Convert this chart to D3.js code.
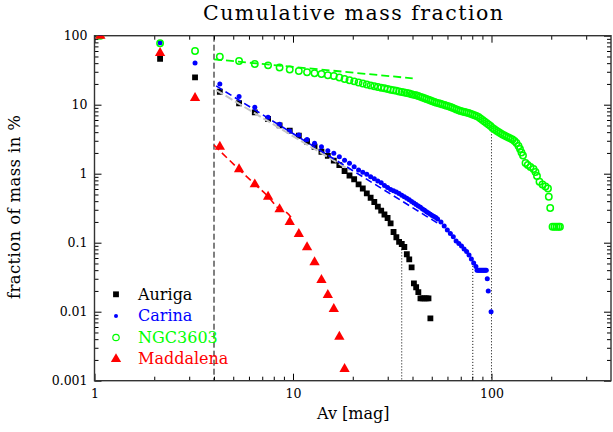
<!DOCTYPE html>
<html>
<head>
<meta charset="utf-8">
<script src="https://cdn.jsdelivr.net/npm/d3@7"></script>
<style>
  body { margin: 0; background: #fff; }
  svg { display: block; }
</style>
</head>
<body>
<svg id="chart" width="613" height="432"></svg>
<script>
// ---- data: cumulative mass fraction (%) above a given extinction Av [mag] ----
const aurigaAv = [1.07,2.14,3.21,4.28,5.35,6.42,7.49,8.56,9.63,10.7,11.77,12.84,13.91,14.98,16.05,17.12,18.19,19.26,20.33,21.4,22.47,23.54,24.61,25.68,26.75,27.82,28.89,29.96,31.03,32.1,33.17,34.24,35.31,36.38,37.45,38.52,39.59,40.66,41.73,42.8,43.87,44.94,46.01,47.08,48.15,49.22];
const aurigaPct = [100,46.4,24.9,15.4,10.5,7.76,6.2,5.03,4.2,3.55,2.93,2.46,2.08,1.81,1.55,1.33,1.094,0.942,0.83,0.702,0.611,0.52,0.448,0.389,0.333,0.291,0.256,0.228,0.191,0.143,0.12,0.103,0.0957,0.0867,0.068,0.0574,0.044,0.0258,0.0226,0.0192,0.0156,0.0156,0.0156,0.0156,0.0156,0.008];

const carinaAv = [1.07,2.14,3.21,4.28,5.35,6.42,7.49,8.56,9.63,10.7,11.77,12.84,13.91,14.98,16.05,17.12,18.19,19.26,20.33,21.4,22.47,23.54,24.61,25.68,26.75,27.82,28.89,29.96,31.03,32.1,33.17,34.24,35.31,36.38,37.45,38.52,39.59,40.66,41.73,42.8,43.87,44.94,46.01,47.08,48.15,49.22,50.29,51.36,52.43,53.5,
  55.64,57.78,59.92,62.06,64.2,66.34,68.48,70.62,72.76,74.9,77.04,79.18,81.32,83.46,
  84.53,85.6,86.67,87.74,88.81,89.88,90.95,92.02,93.09,94.16,95.23,96.3,99.51];
const carinaPct = [100,79.2,40.2,19.95,13.1,9.17,6.57,5.2,4.16,3.64,3.13,2.76,2.46,2.15,1.98,1.76,1.56,1.415,1.26,1.13,1.047,0.98,0.905,0.847,0.784,0.741,0.675,0.631,0.59,0.567,0.543,0.516,0.486,0.464,0.44,0.42,0.395,0.376,0.358,0.34,0.326,0.308,0.295,0.281,0.269,0.258,0.248,0.24,0.232,0.22,
  0.1995,0.1746,0.1528,0.1359,0.1222,0.1059,0.0973,0.0896,0.081,0.0745,0.0664,0.0581,0.0508,0.0452,
  0.04,0.04,0.04,0.04,0.04,0.04,0.04,0.04,0.04,0.04,0.03,0.02,0.01];

const ngcAv = [1.07,2.14,3.21,4.28,5.35,6.42,7.49,8.56,9.63,10.7,11.77,12.84,13.91,14.98,16.05,17.12,18.19,19.26,20.33,21.4,22.47,23.54,24.61,25.68,26.75,27.82,28.89,29.96,31.03,32.1,33.17,34.24,35.31,36.38,37.45,38.52,39.59,40.66,41.73,42.8,
  43.9,44.9,46.0,47.0,48.2,49.3,50.4,51.6,52.8,54.1,55.4,56.6,58.0,59.3,60.7,62.2,63.6,65.1,66.6,68.2,69.8,71.4,73.1,74.8,76.6,78.4,80.2,82.1,84.0,86.0,88.0,90.1,92.2,94.4,96.6,98.9,101.2,103.5,106.0,108.5,111.0,113.6,116.3,119.0,121.8,124.6,127.6,130.6,133.6,136.8,139.2,141.6,144.1,148.4,152.3,157.2,162.8,166.6,169.5,174.5,180.7,187.1,192.6,194.4,197.6,203.0,207.7,212.6,217.5,221.3];
const ngcPct = [100,77.6,60.0,49.6,43.0,38.9,37.2,34.6,32.4,30.8,29.5,28.5,27.9,26.7,26.1,24.8,23.6,22.6,21.8,21.0,20.3,19.6,19.05,18.5,18.07,17.64,17.3,16.9,16.5,16.2,15.9,15.5,15.3,15.0,14.8,14.5,14.2,13.9,13.7,13.4,
  13.0,12.7,12.4,12.1,11.8,11.5,11.2,10.95,10.7,10.5,10.3,10.1,9.9,9.68,9.48,9.26,9.02,8.78,8.55,8.32,8.13,7.96,7.83,7.70,7.58,7.41,7.21,7.02,6.86,6.63,6.31,6.00,5.71,5.43,5.16,4.91,4.59,4.40,4.20,4.02,3.85,3.70,3.58,3.46,3.35,3.24,3.13,2.98,2.79,2.52,2.28,2.03,1.84,1.43,1.34,1.25,1.17,1.06,0.927,0.766,0.697,0.652,0.611,0.464,0.318,0.1706,0.1706,0.1706,0.1706,0.1706];

const maddAv = [1.07,2.14,3.21,4.28,5.35,6.42,7.49,8.56,9.63,10.7,11.77,12.84,13.91,14.98,16.05,17.12,18.19];
const maddPct = [100,56,12.5,2.46,1.16,0.70,0.464,0.305,0.1995,0.1337,0.0858,0.052,0.0288,0.01746,0.01094,0.00434,0.00148];

// power-law fits
const fitAurigaAv = [4.1, 19.3];
const fitAurigaPct = [16.3, 1.13];
const fitCarinaAv = [4.1, 55];
const fitCarinaPct = [18.7, 0.183];
const fitNgcAv = [4.0, 40.1];
const fitNgcPct = [45.5, 24.1];
const fitMaddAv = [4.0, 5.3, 6.4, 7.5, 8.55, 9.3, 9.95];
const fitMaddPct = [2.6, 1.18, 0.71, 0.465, 0.305, 0.272, 0.22];

// threshold Av=4 and the maximum-extinction markers
const thresholdAv = 4;
const refAv = [35.3, 80.5, 100];
const refTop = [0.08, 0.051, 4.55];

// axes
const xMajor = [1, 10, 100];
const xTickLabels = ["1", "10", "100"];
const yMajor = [0.001, 0.01, 0.1, 1, 10, 100];
const yTickLabels = ["0.001", "0.01", "0.1", "1", "10", "100"];

const seriesNames = ["Auriga", "Carina", "NGC3603", "Maddalena"];
const seriesColors = ["#000000", "#0000ff", "#00ff00", "#ff0000"];

// ---- layout ----
const svg = d3.select("#chart");
const plotL = 94.5, plotR = 611, plotT = 35.7, plotB = 380.7;
const x = d3.scaleLog().domain([1, 400]).range([plotL, plotR]);
const y = d3.scaleLog().domain([0.001, 100]).range([plotB, plotT]);
const serif = "'DejaVu Serif', serif";

const zip = (a, b) => a.map((v, i) => [v, b[i]]);

// minor/major tick positions for log axes
const xTicks = [];
[1, 10, 100].forEach(d => { for (let m = 1; m <= 9; m++) { const v = m * d; if (v < 400) xTicks.push(v); } });
const yTicks = [];
[0.001, 0.01, 0.1, 1, 10].forEach(d => { for (let m = 1; m <= 9; m++) yTicks.push(+(m * d).toPrecision(3)); });
yTicks.push(100);
const isMajor = d => Math.abs(Math.log10(d) - Math.round(Math.log10(d))) < 1e-6;

function finishAxis(g, attr, sign) {
  g.select(".domain").remove();
  g.selectAll(".tick line").attr(attr, d => sign * (isMajor(d) ? 7 : 4)).attr("stroke", "#000");
  g.selectAll(".tick text").attr("font-family", serif).attr("font-size", 12.5).attr("fill", "#000");
}

svg.append("g").attr("transform", `translate(0,${plotB})`)
  .call(d3.axisBottom(x).tickValues(xTicks).tickSizeInner(-7).tickSizeOuter(0).tickPadding(8.6)
    .tickFormat(d => { const i = xMajor.indexOf(d); return i >= 0 ? xTickLabels[i] : ""; }))
  .call(g => finishAxis(g, "y2", -1));
svg.append("g").attr("transform", `translate(0,${plotT})`)
  .call(d3.axisTop(x).tickValues(xTicks).tickSizeInner(-7).tickSizeOuter(0).tickFormat(""))
  .call(g => finishAxis(g, "y2", 1));
svg.append("g").attr("transform", `translate(${plotL},0)`)
  .call(d3.axisLeft(y).tickValues(yTicks).tickSizeInner(-7).tickSizeOuter(0).tickPadding(7)
    .tickFormat(d => { const i = yMajor.findIndex(v => Math.abs(v - d) < 1e-9); return i >= 0 ? yTickLabels[i] : ""; }))
  .call(g => finishAxis(g, "x2", 1));
svg.append("g").attr("transform", `translate(${plotR},0)`)
  .call(d3.axisRight(y).tickValues(yTicks).tickSizeInner(-7).tickSizeOuter(0).tickFormat(""))
  .call(g => finishAxis(g, "x2", -1));

// frame
svg.append("rect").attr("x", plotL).attr("y", plotT)
  .attr("width", plotR - plotL).attr("height", plotB - plotT)
  .attr("fill", "none").attr("stroke", "#333").attr("stroke-width", 1.4);

// clip for plotted marks
svg.append("clipPath").attr("id", "plotclip").append("rect")
  .attr("x", plotL).attr("y", plotT).attr("width", plotR - plotL).attr("height", plotB - plotT);
const plot = svg.append("g").attr("clip-path", "url(#plotclip)");

// threshold and reference lines
plot.append("line")
  .attr("x1", x(thresholdAv)).attr("x2", x(thresholdAv))
  .attr("y1", y(100)).attr("y2", y(0.001))
  .attr("stroke", "#000").attr("stroke-width", 1).attr("stroke-dasharray", "6,3");
plot.selectAll(".ref").data(zip(refAv, refTop)).join("line")
  .attr("x1", d => x(d[0])).attr("x2", d => x(d[0]))
  .attr("y1", d => y(d[1])).attr("y2", y(0.001))
  .attr("stroke", "#000").attr("stroke-width", 1).attr("stroke-dasharray", "1,2");

// markers
const sq = d3.symbol().type(d3.symbolSquare).size(34);
const tri = d3.symbol().type(d3.symbolTriangle).size(46);

plot.append("g").selectAll("path").data(zip(aurigaAv, aurigaPct)).join("path")
  .attr("d", sq).attr("transform", d => `translate(${x(d[0])},${y(d[1])})`)
  .attr("fill", seriesColors[0]);

plot.append("g").selectAll("circle").data(zip(carinaAv, carinaPct)).join("circle")
  .attr("cx", d => x(d[0])).attr("cy", d => y(d[1])).attr("r", 2.5)
  .attr("fill", seriesColors[1]);

plot.append("g").selectAll("circle").data(zip(ngcAv, ngcPct)).join("circle")
  .attr("cx", d => x(d[0])).attr("cy", d => y(d[1])).attr("r", 3.2)
  .attr("fill", "none").attr("stroke", seriesColors[2]).attr("stroke-width", 1.5);

plot.append("g").selectAll("path").data(zip(maddAv, maddPct)).join("path")
  .attr("d", tri).attr("transform", d => `translate(${x(d[0])},${y(d[1])})`)
  .attr("fill", seriesColors[3]);

// fit lines
const line = d3.line().x(d => x(d[0])).y(d => y(d[1]));
plot.append("path").datum(zip(fitAurigaAv, fitAurigaPct)).attr("d", line)
  .attr("fill", "none").attr("stroke", "#c4c4c4").attr("stroke-width", 2).attr("stroke-dasharray", "8,3");
plot.append("path").datum(zip(fitCarinaAv, fitCarinaPct)).attr("d", line)
  .attr("fill", "none").attr("stroke", seriesColors[1]).attr("stroke-width", 1.6).attr("stroke-dasharray", "7,4");
plot.append("path").datum(zip(fitNgcAv, fitNgcPct)).attr("d", line)
  .attr("fill", "none").attr("stroke", seriesColors[2]).attr("stroke-width", 1.8).attr("stroke-dasharray", "8,4");
plot.append("path").datum(zip(fitMaddAv, fitMaddPct)).attr("d", d3.line().curve(d3.curveMonotoneX).x(d => x(d[0])).y(d => y(d[1])))
  .attr("fill", "none").attr("stroke", seriesColors[3]).attr("stroke-width", 1.6).attr("stroke-dasharray", "7,4");

// legend
const legend = svg.append("g");
seriesNames.forEach((name, i) => {
  const cy = 294.3 + i * 21.6;
  const g = legend.append("g");
  if (i === 0) g.append("path").attr("d", sq).attr("transform", `translate(116,${cy})`).attr("fill", seriesColors[i]);
  if (i === 1) g.append("circle").attr("cx", 116).attr("cy", cy).attr("r", 2).attr("fill", seriesColors[i]);
  if (i === 2) g.append("circle").attr("cx", 116).attr("cy", cy).attr("r", 3.2).attr("fill", "none")
    .attr("stroke", seriesColors[i]).attr("stroke-width", 1.2);
  if (i === 3) g.append("path").attr("d", tri).attr("transform", `translate(116,${cy})`).attr("fill", seriesColors[i]);
  g.append("text").attr("x", 138).attr("y", cy + 5.2)
    .attr("font-family", serif).attr("font-size", 16).attr("fill", seriesColors[i]).text(name);
});

// titles
svg.append("text").attr("x", 353).attr("y", 20).attr("text-anchor", "middle")
  .attr("font-family", serif).attr("font-size", 20.5)
  .attr("textLength", 300).attr("lengthAdjust", "spacing")
  .text("Cumulative mass fraction");
svg.append("text").attr("x", 353.3).attr("y", 419).attr("text-anchor", "middle")
  .attr("font-family", serif).attr("font-size", 16).text("Av [mag]");
svg.append("text").attr("transform", "translate(20,207) rotate(-90)").attr("text-anchor", "middle")
  .attr("font-family", serif).attr("font-size", 16.5)
  .attr("textLength", 184).attr("lengthAdjust", "spacing")
  .text("fraction of mass in %");
</script>
</body>
</html>
